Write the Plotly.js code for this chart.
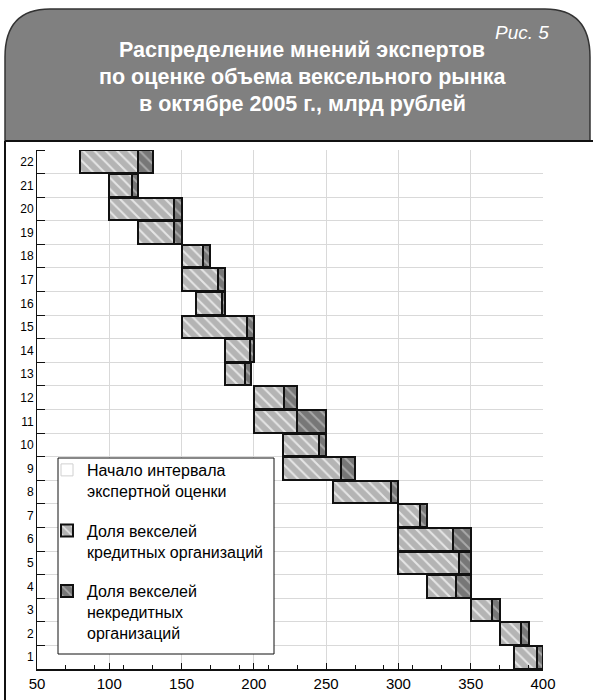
<!DOCTYPE html>
<html>
<head>
<meta charset="utf-8">
<script src="https://cdn.plot.ly/plotly-3.0.1.min.js"></script>
<style>html,body{margin:0;padding:0;background:#fff;}#chart{width:593px;height:700px;}</style>
</head>
<body>
<div id="chart"></div>
<script>
// Data
const experts = [1,2,3,4,5,6,7,8,9,10,11,12,13,14,15,16,17,18,19,20,21,22];
const intervalStart = [380,370,350,320,300,300,300,255,220,220,200,200,180,180,150,160,150,150,120,100,100,80];
const creditShare   = [16,15,15,20,42,38,15,40,40,25,30,21,14,17,45,18,25,15,25,45,16,40];
const nonCreditShare= [4,5,5,10,8,12,5,5,10,5,20,9,4,3,5,2,5,5,5,5,4,10];
const xTicks = [50,100,150,200,250,300,350,400];
const legendNames = ["Начало интервала<br>экспертной оценки","Доля векселей<br>кредитных организаций","Доля векселей<br>некредитных<br>организаций"];
const figLabel = "Рис. 5";
const titleLines = ["Распределение мнений экспертов","по оценке объема вексельного рынка","в октябре 2005 г., млрд рублей"];

// pixel helpers (layout only)
const W=593,H=700,L=37,R=543,T=150,B=669;
const px=p=>(p-L)/(R-L), py=p=>(B-p)/(B-T);

const font = "Liberation Sans, Arial, sans-serif";

const traces = [
  {type:'bar',orientation:'h',y:experts,x:intervalStart,name:legendNames[0],showlegend:false,
   marker:{color:'rgba(0,0,0,0)',line:{width:0}},hoverinfo:'skip'},
  {type:'bar',orientation:'h',y:[null],x:[null],name:legendNames[0],legendgroup:'a',
   marker:{color:'#ffffff',line:{color:'#d0d0d0',width:1}}},
  {type:'bar',orientation:'h',y:experts,x:creditShare,name:legendNames[1],legendgroup:'b',
   marker:{color:'#b4b4b4',line:{color:'#111',width:2},
     pattern:{shape:'\\',bgcolor:'#b4b4b4',fgcolor:'#f2f2f2',fgopacity:0.8,size:8,solidity:0.25}}},
  {type:'bar',orientation:'h',y:experts,x:nonCreditShare,name:legendNames[2],legendgroup:'c',
   marker:{color:'#777777',line:{color:'#111',width:2},
     pattern:{shape:'\\',bgcolor:'#777777',fgcolor:'#bdbdbd',fgopacity:0.7,size:8,solidity:0.25}}}
];

const ann = [
  {text:figLabel,x:px(551),y:py(33),xanchor:'right',yanchor:'middle',
   font:{family:font,size:19,color:'#fff',style:'italic'}},
];
const ty=[50,77,104];
titleLines.forEach((t,i)=>ann.push({text:t,x:px(302),y:py(ty[i]),xanchor:'center',yanchor:'middle',
   font:{family:font,size:21.5,color:'#fff',weight:'bold'}}));
ann.forEach(a=>{a.xref='paper';a.yref='paper';a.showarrow=false;});

const P=(x,y)=>px(x)+','+py(y);
const headerPath = 'M'+P(5,141)+' L'+P(5,57)+' Q'+P(5,9)+' '+P(50,9)+' L'+P(545,9)+' Q'+P(590,9)+' '+P(590,57)+' L'+P(590,141)+' Z';

const shapes = [
  {type:'path',xref:'paper',yref:'paper',path:headerPath,fillcolor:'#808080',line:{color:'#333',width:1.5},layer:'below'},
  {type:'line',xref:'paper',yref:'paper',x0:px(5),x1:px(593),y0:py(141),y1:py(141),line:{color:'#111',width:2}},
  {type:'line',xref:'paper',yref:'paper',x0:px(5),x1:px(5),y0:py(141),y1:py(700),line:{color:'#111',width:2}},
  {type:'rect',xref:'paper',yref:'paper',x0:px(58),x1:px(274),y0:py(458),y1:py(654),fillcolor:'#fff',line:{color:'#111',width:1},layer:'above'}
];

const layout = {
  width:W,height:H,
  margin:{l:L,r:W-R,t:T,b:H-B,pad:0},
  paper_bgcolor:'#fff',plot_bgcolor:'#fff',
  barmode:'stack',bargap:0.04,
  font:{family:font,color:'#000'},
  xaxis:{range:[50,400],tickvals:xTicks,ticktext:xTicks.map(String),showgrid:true,gridcolor:'#d9d9d9',gridwidth:1,
    zeroline:false,showline:true,linecolor:'#111',linewidth:2,ticks:'inside',ticklen:6,tickcolor:'#111',
    tickfont:{size:15,family:font},
    minor:{tick0:50,dtick:20,ticks:'inside',ticklen:4,tickcolor:'#111',showgrid:false}},
  yaxis:{range:[0.5,22.5],tickvals:experts,ticktext:experts.map(String),showgrid:false,zeroline:false,
    showline:true,linecolor:'#111',linewidth:1,ticks:'',tickfont:{size:12,family:font},
    minor:{tick0:0.5,dtick:1,ticks:'inside',ticklen:8,tickcolor:'#111',showgrid:true,gridcolor:'#d9d9d9',gridwidth:1}},
  legend:{x:px(47),y:py(453),xanchor:'left',yanchor:'top',bgcolor:'rgba(0,0,0,0)',borderwidth:0,
    font:{size:16,family:font,color:'#000'},valign:'top',traceorder:'grouped',tracegroupgap:16},
  annotations:ann,shapes:shapes
};

Plotly.newPlot('chart',traces,layout,{displayModeBar:false,staticPlot:true});
</script>
</body>
</html>
